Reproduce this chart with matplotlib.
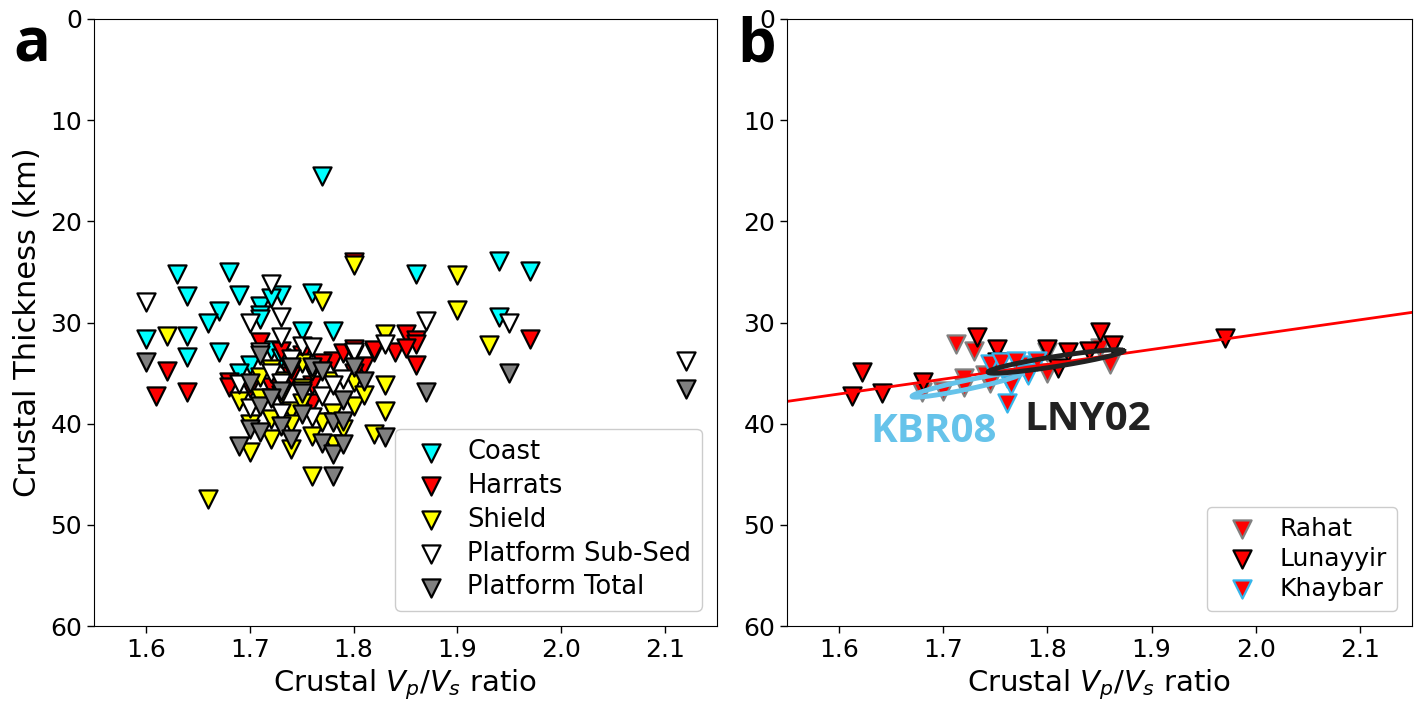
import numpy as np
import matplotlib
matplotlib.use("Agg")
import matplotlib.pyplot as plt

# ---------------- data: panel a ----------------
coast_vpvs = [1.77, 1.63, 1.68, 1.86, 1.94, 1.97, 1.64, 1.69, 1.73, 1.76, 1.67, 1.66, 1.71, 1.72,
              1.71, 1.60, 1.64, 1.75, 1.78, 1.94, 1.64, 1.67, 1.70, 1.72, 1.71, 1.69, 1.73]
coast_h = [15.5, 25.2, 25.0, 25.2, 23.9, 24.9, 27.4, 27.3, 27.3, 27.1, 28.9, 30.0, 28.4, 27.6,
           29.3, 31.6, 31.3, 30.8, 30.8, 29.5, 33.4, 32.9, 34.2, 32.7, 29.7, 35.0, 33.5]

harrat_vpvs = [1.80, 1.85, 1.86, 1.86, 1.97, 1.62, 1.61, 1.64, 1.68, 1.68, 1.70, 1.71, 1.75, 1.78,
               1.81, 1.82, 1.82, 1.84, 1.86, 1.73, 1.76, 1.74, 1.77, 1.79, 1.80, 1.85, 1.72, 1.80, 1.76]
harrat_h = [24.0, 31.1, 31.7, 34.2, 31.6, 34.8, 37.3, 36.9, 35.9, 36.4, 36.5, 31.9, 33.2, 33.8,
            34.3, 32.9, 32.7, 32.9, 32.1, 32.8, 38.0, 35.3, 34.0, 33.0, 35.0, 32.5, 36.4, 32.6, 36.2]

shield_vpvs = [1.80, 1.77, 1.90, 1.90, 1.93, 1.62, 1.83, 1.66, 1.70, 1.69, 1.71, 1.72, 1.73, 1.72,
               1.74, 1.74, 1.75, 1.76, 1.76, 1.78, 1.80, 1.80, 1.78, 1.83, 1.83, 1.82, 1.71, 1.73,
               1.75, 1.77, 1.74, 1.79, 1.70, 1.76, 1.78, 1.72, 1.81, 1.75]
shield_h = [24.3, 27.9, 25.3, 28.8, 32.2, 31.3, 31.1, 47.4, 42.8, 37.8, 35.4, 34.6, 35.8, 39.5,
            42.5, 38.7, 38.0, 41.2, 45.2, 38.9, 38.3, 35.9, 35.8, 36.2, 38.7, 41.0, 37.5, 37.2,
            36.5, 39.8, 40.0, 40.5, 40.0, 34.8, 42.0, 41.5, 37.2, 34.0]

subsed_vpvs = [1.60, 1.72, 1.70, 1.73, 1.73, 1.87, 1.95, 2.12, 1.69, 1.71, 1.75, 1.76, 1.80, 1.83,
               1.80, 1.79, 1.77, 1.72, 1.74, 1.73, 1.70, 1.75, 1.78, 1.73, 1.76, 1.74]
subsed_h = [28.0, 26.2, 30.0, 29.5, 31.4, 29.9, 30.0, 33.8, 36.1, 32.9, 32.3, 32.4, 33.1, 32.1,
            32.9, 35.6, 37.3, 35.0, 33.6, 36.0, 38.5, 36.8, 36.2, 38.9, 39.3, 34.6]

total_vpvs = [1.87, 1.95, 2.12, 1.60, 1.69, 1.70, 1.71, 1.71, 1.71, 1.73, 1.73, 1.74, 1.74, 1.75,
              1.76, 1.77, 1.77, 1.78, 1.78, 1.78, 1.79, 1.79, 1.80, 1.83, 1.72, 1.75, 1.79, 1.81, 1.70]
total_h = [36.9, 35.0, 36.6, 33.9, 42.2, 40.5, 38.3, 40.8, 33.2, 36.8, 40.2, 34.4, 41.5, 39.0,
           34.4, 34.8, 41.9, 45.2, 39.8, 43.0, 39.7, 42.0, 34.4, 41.3, 37.5, 37.0, 37.7, 35.8, 36.0]

# ---------------- data: panel b ----------------
rahat_vpvs = [1.712, 1.73, 1.80, 1.86, 1.85, 1.80, 1.72, 1.74, 1.68, 1.70, 1.72, 1.745]
rahat_h = [32.1, 32.8, 32.9, 34.1, 32.5, 35.0, 35.5, 35.2, 36.9, 36.8, 36.4, 36.0]

luna_vpvs = [1.612, 1.622, 1.641, 1.681, 1.732, 1.752, 1.752, 1.80, 1.82, 1.85, 1.863, 1.84, 1.81, 1.97]
luna_h = [37.3, 34.9, 37.0, 35.9, 31.4, 32.6, 33.9, 32.6, 32.9, 30.9, 32.2, 32.8, 34.5, 31.5]

khay_vpvs = [1.761, 1.745, 1.755, 1.774, 1.761, 1.78, 1.781, 1.77, 1.79, 1.765]
khay_h = [38.0, 34.1, 33.9, 34.2, 35.5, 35.0, 35.2, 33.8, 33.8, 36.2]

fit_vpvs = [1.55, 2.15]
fit_h = [37.8, 29.0]

# error ellipses: (end1 vpvs, end1 H, end2 vpvs, end2 H, half thickness in km)
kbr08_ends = [1.670, 37.3, 1.776, 35.0, 0.45]
lny02_ends = [1.743, 34.9, 1.873, 32.8, 0.5]

xticks = [1.6, 1.7, 1.8, 1.9, 2.0, 2.1]
yticks = [0, 10, 20, 30, 40, 50, 60]

# ---------------- figure ----------------
fig = plt.figure(figsize=(14.19, 7.04), dpi=100)
axa = fig.add_axes([94 / 1419, 1 - 626 / 704, 623 / 1419, 607 / 704])
axb = fig.add_axes([787 / 1419, 1 - 626 / 704, 625 / 1419, 607 / 704])

MS = 170
LW = 1.6

axa.scatter(coast_vpvs, coast_h, marker='v', s=MS, c='#00ffff', edgecolors='black', linewidths=LW, label='Coast')
axa.scatter(harrat_vpvs, harrat_h, marker='v', s=MS, c='#ff0000', edgecolors='black', linewidths=LW, label='Harrats')
axa.scatter(shield_vpvs, shield_h, marker='v', s=MS, c='#ffff00', edgecolors='black', linewidths=LW, label='Shield')
axa.scatter(subsed_vpvs, subsed_h, marker='v', s=MS, c='white', edgecolors='black', linewidths=LW, label='Platform Sub-Sed')
axa.scatter(total_vpvs, total_h, marker='v', s=MS, c='#808080', edgecolors='black', linewidths=LW, label='Platform Total')

axb.scatter(rahat_vpvs, rahat_h, marker='v', s=MS, c='#ff0000', edgecolors='#808080', linewidths=LW, label='Rahat')
axb.scatter(luna_vpvs, luna_h, marker='v', s=MS, c='#ff0000', edgecolors='black', linewidths=LW, label='Lunayyir')
axb.scatter(khay_vpvs, khay_h, marker='v', s=MS, c='#ff0000', edgecolors='#35b5ea', linewidths=LW, label='Khaybar')
axb.plot(fit_vpvs, fit_h, color='red', lw=2)


def ellipse(e):
    x1, y1, x2, y2, h = e
    t = np.linspace(0, 2 * np.pi, 200)
    cx, cy = (x1 + x2) / 2, (y1 + y2) / 2
    dx, dy = (x2 - x1) / 2, (y2 - y1) / 2
    return cx + dx * np.cos(t), cy + dy * np.cos(t) + h * np.sin(t)


ex, ey = ellipse(kbr08_ends)
axb.plot(ex, ey, color='#66c3ea', lw=3.5, zorder=4)
ex, ey = ellipse(lny02_ends)
axb.plot(ex, ey, color='#222222', lw=3.5, zorder=4)

axb.text(1.630, 41.8, 'KBR08', color='#66c3ea', fontsize=29, fontweight='bold',
         family=['Open Sans', 'DejaVu Sans'], ha='left', va='baseline', zorder=5)
axb.text(1.778, 40.6, 'LNY02', color='#222222', fontsize=29, fontweight='bold',
         family=['Open Sans', 'DejaVu Sans'], ha='left', va='baseline', zorder=5)

for ax in (axa, axb):
    ax.set_xlim(1.55, 2.15)
    ax.set_ylim(60, 0)
    ax.set_xticks(xticks)
    ax.set_yticks(yticks)
    ax.tick_params(labelsize=18, length=5, width=1)
    ax.set_xlabel('Crustal $V_p/V_s$ ratio', fontsize=21, labelpad=4)

axa.set_ylabel('Crustal Thickness (km)', fontsize=22, labelpad=6)

axa.legend(loc='lower right', fontsize=18.5, labelspacing=0.3, handletextpad=0.4,
           borderpad=0.4, framealpha=1, fancybox=True, borderaxespad=0.6)
axb.legend(loc='lower right', fontsize=18, labelspacing=0.25, handletextpad=0.5,
           borderpad=0.4, framealpha=1, fancybox=True, borderaxespad=0.6)

fig.text(32 / 1419, 1 - 62 / 704, 'a', fontsize=44, fontweight='bold',
         family=['Open Sans', 'DejaVu Sans'], ha='center', va='baseline')
fig.text(757 / 1419, 1 - 62 / 704, 'b', fontsize=44, fontweight='bold',
         family=['Open Sans', 'DejaVu Sans'], ha='center', va='baseline')

fig.savefig('out.png', dpi=100)
